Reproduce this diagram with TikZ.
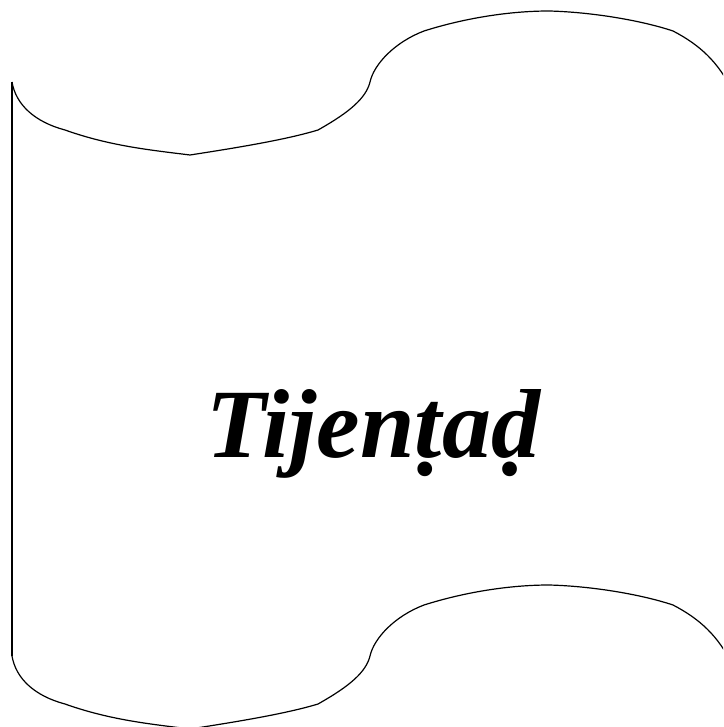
\documentclass[tikz,border=0pt]{standalone}
\usepackage{fontspec}
\setmainfont{Liberation Serif}
\begin{document}
\begin{tikzpicture}[x=1pt,y=-1pt,
  outline/.style={draw=black,line width=1.2pt,line join=round},
  label/.style={font=\fontsize{98}{100}\selectfont\bfseries\itshape,inner sep=0pt,anchor=base}]
\useasboundingbox (0,0) rectangle (723,727);
\clip (0,0) rectangle (723,727);
\def\wave{(12,82) .. controls (16,105) and (35,122) .. (65,130)
  .. controls (110,146) and (150,150) .. (190,155)
  .. controls (235,148) and (285,140) .. (318,130)
  .. controls (350,112) and (366,98) .. (370,82)
  .. controls (374,64) and (395,42) .. (424,31)
  .. controls (465,18) and (510,11) .. (549,11)
  .. controls (590,12) and (640,20) .. (673,31)
  .. controls (700,45) and (718,62) .. (732,90)}
% top edge
\draw[outline] \wave;
% bottom edge
\draw[outline,shift={(0,574)}] \wave;
% left edge
\coordinate (tl) at (12,82);
\coordinate (bl) at (12,656);
\draw[outline] (tl) -- (bl);
\node[label] (title) at (373,457) {Tijenṭaḍ};
\end{tikzpicture}
\end{document}
